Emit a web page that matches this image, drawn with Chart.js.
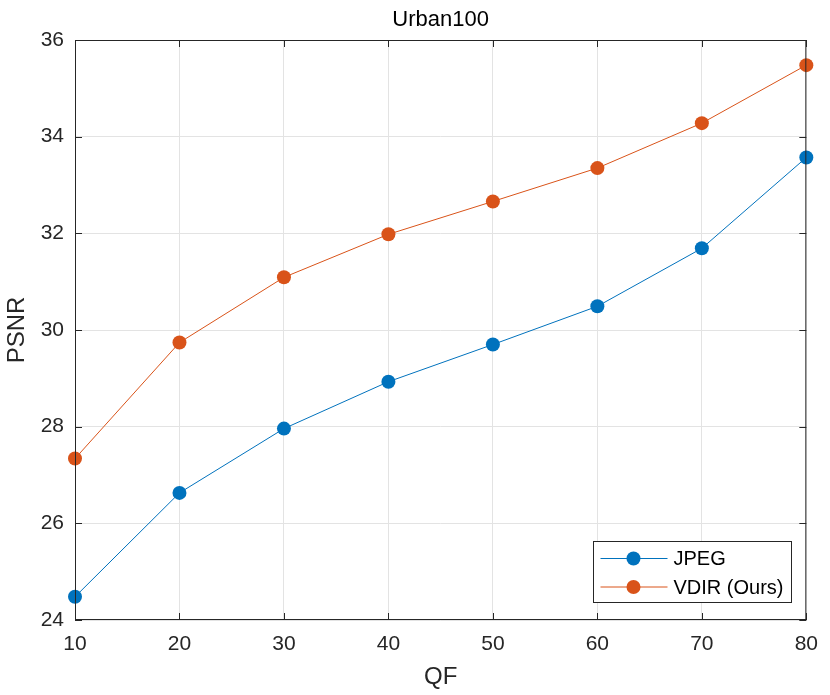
<!DOCTYPE html>
<html><head><meta charset="utf-8">
<script src="https://cdn.jsdelivr.net/npm/chart.js@4"></script>
<style>html,body{margin:0;padding:0;background:#fff}#wrap{width:830px;height:695px}</style>
</head><body><div id="wrap"><canvas id="c"></canvas></div>
<script>
const categories = [10, 20, 30, 40, 50, 60, 70, 80];
const jpegValues = [24.48, 26.63, 27.96, 28.93, 29.70, 30.49, 31.69, 33.57];
const vdirValues = [27.34, 29.74, 31.09, 31.98, 32.66, 33.35, 34.28, 35.48];
const seriesLabels = ['JPEG', 'VDIR (Ours)'];
const titleText = 'Urban100';
const xTitle = 'QF';
const yTitle = 'PSNR';

const FONT = "'Liberation Sans', Arial, Helvetica, sans-serif";
const AX = '#262626';

const boxPlugin = {
  id: 'box',
  afterDraw(chart) {
    const {ctx, chartArea: a, scales} = chart;
    ctx.save();
    ctx.strokeStyle = AX; ctx.lineWidth = 1;
    ctx.strokeRect(a.left + 0.5, a.top + 0.5, a.right - a.left - 1, a.bottom - a.top - 1);
    const L = 7;
    ctx.beginPath();
    scales.x.ticks.forEach(t => {
      const x = Math.round(scales.x.getPixelForValue(t.value)) + 0.5;
      ctx.moveTo(x, a.bottom); ctx.lineTo(x, a.bottom - L);
      ctx.moveTo(x, a.top); ctx.lineTo(x, a.top + L);
    });
    scales.y.ticks.forEach(t => {
      const y = Math.round(scales.y.getPixelForValue(t.value)) + 0.5;
      ctx.moveTo(a.left, y); ctx.lineTo(a.left + L, y);
      ctx.moveTo(a.right, y); ctx.lineTo(a.right - L, y);
    });
    ctx.stroke();
    // legend
    const bx = 593.5, by = 541.5, bw = 198, bh = 61;
    ctx.fillStyle = '#fff';
    ctx.fillRect(bx, by, bw, bh);
    ctx.strokeRect(bx, by, bw, bh);
    chart.data.datasets.forEach((ds, i) => {
      const yy = by + 17 + i * 28.5;
      ctx.strokeStyle = ds.borderColor; ctx.lineWidth = 1;
      ctx.beginPath(); ctx.moveTo(bx + 7, yy); ctx.lineTo(bx + 74, yy); ctx.stroke();
      ctx.fillStyle = ds.backgroundColor;
      ctx.beginPath(); ctx.arc(bx + 40, yy, 7, 0, Math.PI * 2); ctx.fill();
      ctx.fillStyle = '#000';
      ctx.font = '20px ' + FONT;
      ctx.textBaseline = 'middle'; ctx.textAlign = 'left';
      ctx.fillText(ds.label, bx + 80, yy + 1);
    });
    ctx.restore();
  }
};

new Chart(document.getElementById('c'), {
  type: 'line',
  data: {
    labels: categories,
    datasets: [
      {label: seriesLabels[0], data: jpegValues, borderColor: '#0072BD', backgroundColor: '#0072BD', borderWidth: 1, pointRadius: 7, pointBorderWidth: 0, pointHoverRadius: 7, clip: false},
      {label: seriesLabels[1], data: vdirValues, borderColor: '#D95319', backgroundColor: '#D95319', borderWidth: 1, pointRadius: 7, pointBorderWidth: 0, pointHoverRadius: 7, clip: false}
    ]
  },
  options: {
    responsive: true, maintainAspectRatio: false, animation: false,
    layout: {padding: {left: 0, right: 20, top: 0, bottom: 0}},
    plugins: {
      legend: {display: false},
      tooltip: {enabled: false},
      title: {display: false}
    },
    scales: {
      x: {
        type: 'linear', min: 10, max: 80,
        ticks: {stepSize: 10, color: AX, font: {family: FONT, size: 21}, padding: 12},
        grid: {color: '#e3e3e3', drawTicks: false},
        border: {display: false},
        title: {display: true, text: xTitle, color: AX, font: {family: FONT, size: 24}, padding: {top: 3, bottom: 3}},
        afterFit(s) { s.height = 75; }
      },
      xTop: {
        type: 'linear', position: 'top', min: 10, max: 80,
        ticks: {display: false},
        grid: {display: false, drawTicks: false},
        border: {display: false},
        title: {display: true, text: titleText, color: '#000', font: {family: FONT, size: 22, lineHeight: 1}, padding: {top: 9, bottom: 9}},
        afterFit(s) { s.height = 40; }
      },
      y: {
        min: 24, max: 36,
        ticks: {stepSize: 2, color: AX, font: {family: FONT, size: 21}, padding: 11},
        grid: {color: '#e3e3e3', drawTicks: false},
        border: {display: false},
        title: {display: true, text: yTitle, color: AX, font: {family: FONT, size: 24}, padding: {top: 3, bottom: 3}},
        afterFit(s) { s.width = 75; }
      }
    }
  },
  plugins: [boxPlugin]
});
</script></body></html>
